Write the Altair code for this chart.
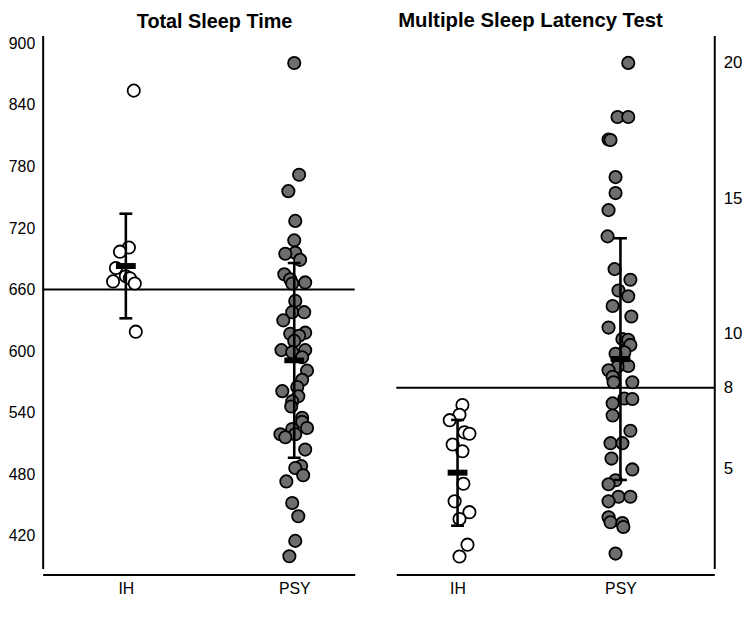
import altair as alt
import pandas as pd

groups = ["IH", "PSY"]

# Total Sleep Time (min)
tst_ih = [854, 701, 697, 681, 673, 671, 668, 666, 619]
tst_ih_jit = [0.047, 0.018, -0.035, -0.059, 0.0, 0.024, -0.076, 0.053, 0.059]
tst_psy = [881, 772, 756, 727, 708, 696, 695, 689, 675, 670, 667, 666, 649, 638, 638,
           630, 618, 617, 615, 610, 601, 601, 599, 594, 581, 572, 565, 561, 556, 551,
           546, 535, 531, 525, 524, 519, 519, 516, 504, 488, 486, 479, 473, 452, 439,
           415, 400]
tst_psy_jit = [0.0, 0.029, -0.035, 0.006, 0.0, 0.006, -0.053, 0.035, -0.059, -0.024,
               0.065, -0.012, 0.006, -0.012, 0.059, -0.065, 0.065, -0.024, 0.029, 0.0,
               -0.076, 0.065, -0.012, 0.047, 0.076, 0.047, 0.018, -0.071, 0.024, -0.012,
               -0.018, 0.047, 0.047, 0.076, -0.012, -0.082, 0.006, -0.053, 0.065, 0.041,
               0.006, 0.053, -0.047, -0.012, 0.024, 0.006, -0.029]
tst_mean = [683, 591]
tst_lo = [632, 496]
tst_hi = [734, 686]
tst_ticks = [420, 480, 540, 600, 660, 720, 780, 840, 900]
tst_ref = 660

# Multiple Sleep Latency Test (min)
mslt_ih = [7.36, 7.0, 6.8, 6.35, 6.3, 5.9, 5.65, 4.45, 3.8, 3.4, 3.15, 2.2, 1.76]
mslt_ih_jit = [0.03, 0.012, -0.048, 0.042, 0.073, -0.03, 0.03, 0.036, -0.018, 0.073,
               0.012, 0.061, 0.012]
mslt_psy = [20.0, 18.0, 18.0, 17.17, 17.15, 15.78, 15.19, 14.56, 13.59, 12.38, 11.99,
            11.59, 11.38, 11.02, 10.63, 10.22, 9.8, 9.77, 9.58, 9.31, 9.25, 8.8, 8.77,
            8.64, 8.4, 8.2, 8.2, 7.6, 7.58, 7.42, 6.97, 6.41, 5.95, 5.95, 5.38, 4.98,
            4.58, 4.43, 3.97, 3.97, 3.8, 3.21, 3.03, 3.0, 2.85, 1.87]
mslt_psy_jit = [0.048, -0.018, 0.048, -0.073, -0.061, -0.03, -0.03, -0.073, -0.079,
                -0.036, 0.061, -0.012, 0.048, -0.048, 0.067, -0.073, 0.012, 0.048, 0.061,
                0.024, -0.03, 0.048, -0.018, -0.073, -0.048, -0.042, 0.073, 0.024, 0.073,
                -0.048, -0.048, 0.061, -0.061, 0.012, -0.055, 0.073, -0.03, -0.073,
                -0.012, 0.061, -0.073, -0.073, -0.061, 0.012, 0.018, -0.03]
mslt_mean = [4.86, 9.06]
mslt_lo = [2.90, 4.59]
mslt_hi = [6.81, 13.52]
mslt_ticks = [5, 8, 10, 15, 20]
mslt_ref = 8

FONT = "Liberation Sans"


def points_frame(ih, ih_j, psy, psy_j):
    rows = []
    for v, j in zip(ih, ih_j):
        rows.append({"group": "IH", "value": v, "xpos": 0 + j})
    for v, j in zip(psy, psy_j):
        rows.append({"group": "PSY", "value": v, "xpos": 1 + j})
    return pd.DataFrame(rows)


def summary_frame(mean, lo, hi):
    return pd.DataFrame({"group": groups, "xpos": [0, 1], "mean": mean, "lo": lo, "hi": hi})


def panel(pts, summ, ref, title, dx, tsize, ydomain, xdomain, yticks, yorient, width, height, lpad, lsize):
    xscale = alt.Scale(domain=xdomain, nice=False, zero=False)
    yscale = alt.Scale(domain=ydomain, nice=False, zero=False)
    xaxis = alt.Axis(values=[0, 1], labelExpr="datum.value == 0 ? 'IH' : 'PSY'",
                     ticks=False, tickSize=0, grid=False, domainColor="black",
                     domainWidth=2, offset=6, labelFontSize=16, labelColor="black",
                     labelFont=FONT, labelPadding=6, title=None)
    yaxis = alt.Axis(orient=yorient, values=yticks, ticks=False, tickSize=0, grid=False,
                     domainColor="black", domainWidth=2, labelFontSize=lsize,
                     labelColor="black", labelFont=FONT, labelPadding=lpad, title=None)

    base_s = alt.Chart(summ)
    refline = alt.Chart(pd.DataFrame({"ref": [ref]})).mark_rule(
        color="black", strokeWidth=2).encode(y=alt.Y("ref:Q", scale=yscale))
    dots = alt.Chart(pts).mark_circle(size=155, stroke="black", strokeWidth=1.8,
                                      opacity=1, fillOpacity=1).encode(
        x=alt.X("xpos:Q", scale=xscale, axis=xaxis),
        y=alt.Y("value:Q", scale=yscale, axis=yaxis),
        fill=alt.Fill("group:N", scale=alt.Scale(domain=groups, range=["white", "#6e6e6e"]),
                      legend=None),
    )
    err = base_s.mark_rule(color="black", strokeWidth=2.6).encode(
        x=alt.X("xpos:Q", scale=xscale), y=alt.Y("lo:Q", scale=yscale), y2="hi:Q")
    cap_hi = base_s.mark_tick(orient="horizontal", size=13, thickness=2.6, color="black",
                              opacity=1).encode(
        x=alt.X("xpos:Q", scale=xscale), y=alt.Y("hi:Q", scale=yscale))
    cap_lo = base_s.mark_tick(orient="horizontal", size=13, thickness=2.6, color="black",
                              opacity=1).encode(
        x=alt.X("xpos:Q", scale=xscale), y=alt.Y("lo:Q", scale=yscale))
    mean_bar = base_s.mark_tick(orient="horizontal", size=20, thickness=6, color="black",
                                opacity=1).encode(
        x=alt.X("xpos:Q", scale=xscale), y=alt.Y("mean:Q", scale=yscale))
    return alt.layer(refline, dots, err, cap_hi, cap_lo, mean_bar).properties(
        width=width, height=height,
        title=alt.TitleParams(title, fontSize=tsize, font=FONT, fontWeight="bold",
                              color="black", anchor="middle", dx=dx, offset=4),
    )


left = panel(points_frame(tst_ih, tst_ih_jit, tst_psy, tst_psy_jit),
             summary_frame(tst_mean, tst_lo, tst_hi), tst_ref, "Total Sleep Time", 16, 20,
             [388.1, 907.7], [-0.494, 1.359], tst_ticks, "left", 315, 538, 8, 16)
right = panel(points_frame(mslt_ih, mslt_ih_jit, mslt_psy, mslt_psy_jit),
              summary_frame(mslt_mean, mslt_lo, mslt_hi), mslt_ref,
              "Multiple Sleep Latency Test", -25, 20.5,
              [1.32, 21.01], [-0.376, 1.576], mslt_ticks, "right", 321, 538, 9, 17)

chart = alt.hconcat(left, right, spacing=40).properties(padding=0).configure_view(stroke=None)
chart.save("out.html", embed_options={"renderer": "svg", "actions": False})
